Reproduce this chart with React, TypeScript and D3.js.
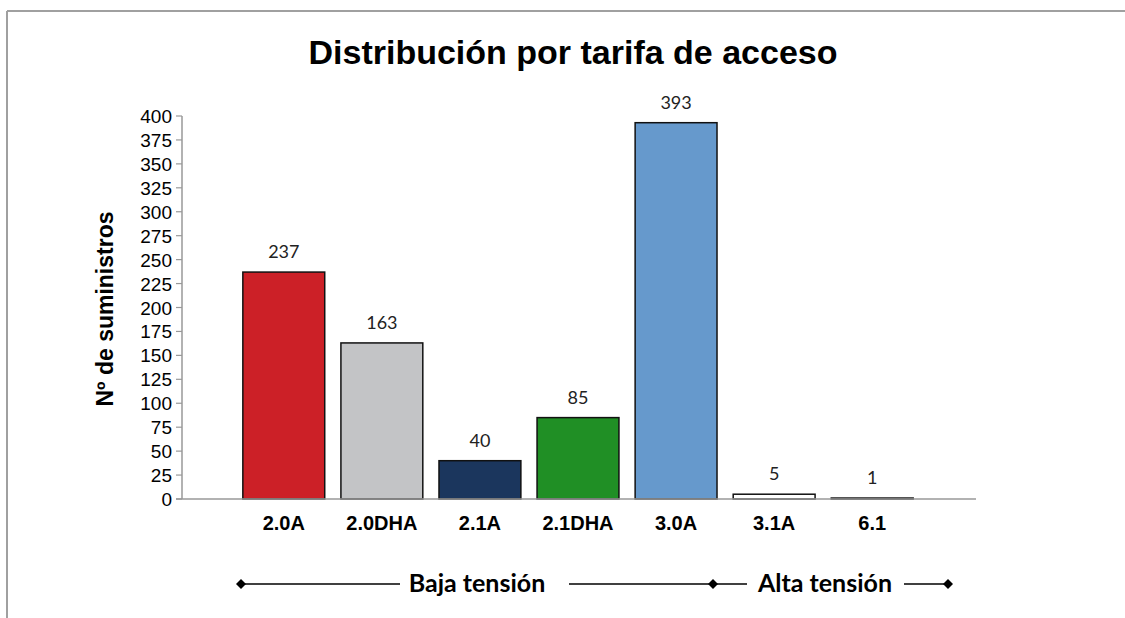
import React from "react";
import * as d3 from "d3";

const categories = ["2.0A", "2.0DHA", "2.1A", "2.1DHA", "3.0A", "3.1A", "6.1"];
const values = [237, 163, 40, 85, 393, 5, 1];
const colors = ["#cc2027", "#c3c4c6", "#1b365d", "#208f25", "#6699cc", "#ffffff", "#ffffff"];
const yTicks = d3.range(0, 401, 25);
const title = "Distribución por tarifa de acceso";
const yLabel = "Nº de suministros";
const groups = ["Baja tensión", "Alta tensión"];

export default function App() {
  const W = 1125, H = 618;
  const axisX0 = 182, axisX1 = 976, baseY = 499, topY = 116;
  const x = d3.scaleBand<string>().domain(categories).range([235, 921]).paddingInner(0.165).paddingOuter(0.08);
  const y = d3.scaleLinear().domain([0, 400]).range([baseY, topY]);
  const diamond = "M0,-5L5,0L0,5L-5,0Z";
  const lineY = 584;
  const arial = "Liberation Sans, Arial, sans-serif";
  const calibri = "Lato, Calibri, sans-serif";
  return (
    <svg width={W} height={H} style={{ position: "absolute", left: 0, top: 0, background: "#fff" }}>
      <rect x={0} y={0} width={W} height={H} fill="#fff" />
      <line x1={7} y1={11} x2={W} y2={11} stroke="#a0a0a0" strokeWidth={2} />
      <line x1={7} y1={11} x2={7} y2={H} stroke="#a0a0a0" strokeWidth={2} />
      <text x={573} y={64} textAnchor="middle" fontFamily={arial} fontWeight="bold" fontSize={34} fill="#000">{title}</text>
      <text transform={`translate(113,309) rotate(-90)`} textAnchor="middle" fontFamily={arial} fontWeight="bold" fontSize={23} fill="#000">{yLabel}</text>
      {yTicks.map((t) => (
        <g key={t}>
          <line x1={axisX0 - 6} x2={axisX0} y1={y(t)} y2={y(t)} stroke="#999" strokeWidth={1.2} />
          <text x={172} y={y(t) + 7} textAnchor="end" fontFamily={arial} fontSize={19} fill="#000">{t}</text>
        </g>
      ))}
      {categories.map((c, i) => {
        const bx = x(c) as number;
        const bw = x.bandwidth();
        const top = y(values[i]);
        return (
          <g key={c}>
            <rect x={bx} y={top} width={bw} height={Math.max(baseY - top, 0.5)} fill={colors[i]} stroke="#111" strokeWidth={1.5} />
            <text x={bx + bw / 2} y={top - 14} textAnchor="middle" fontFamily={calibri} fontSize={18} fill="#222">{values[i]}</text>
            <text x={bx + bw / 2} y={530} textAnchor="middle" fontFamily={arial} fontWeight="bold" fontSize={20} fill="#000">{c}</text>
          </g>
        );
      })}
      <line x1={axisX0} x2={axisX0} y1={topY} y2={baseY} stroke="#999" strokeWidth={1.5} />
      <line x1={axisX0 - 6} x2={axisX1} y1={baseY} y2={baseY} stroke="#999" strokeWidth={1.5} />
      <g stroke="#000" strokeWidth={1.4}>
        <line x1={241} x2={400} y1={lineY} y2={lineY} />
        <line x1={569} x2={747} y1={lineY} y2={lineY} />
        <line x1={904} x2={948} y1={lineY} y2={lineY} />
      </g>
      {[241, 713, 948].map((dx) => (
        <path key={dx} d={diamond} transform={`translate(${dx},${lineY})`} fill="#000" />
      ))}
      <text x={477} y={592} textAnchor="middle" fontFamily={calibri} fontWeight="bold" fontSize={25} fill="#000">{groups[0]}</text>
      <text x={825} y={592} textAnchor="middle" fontFamily={calibri} fontWeight="bold" fontSize={25} fill="#000">{groups[1]}</text>
    </svg>
  );
}
